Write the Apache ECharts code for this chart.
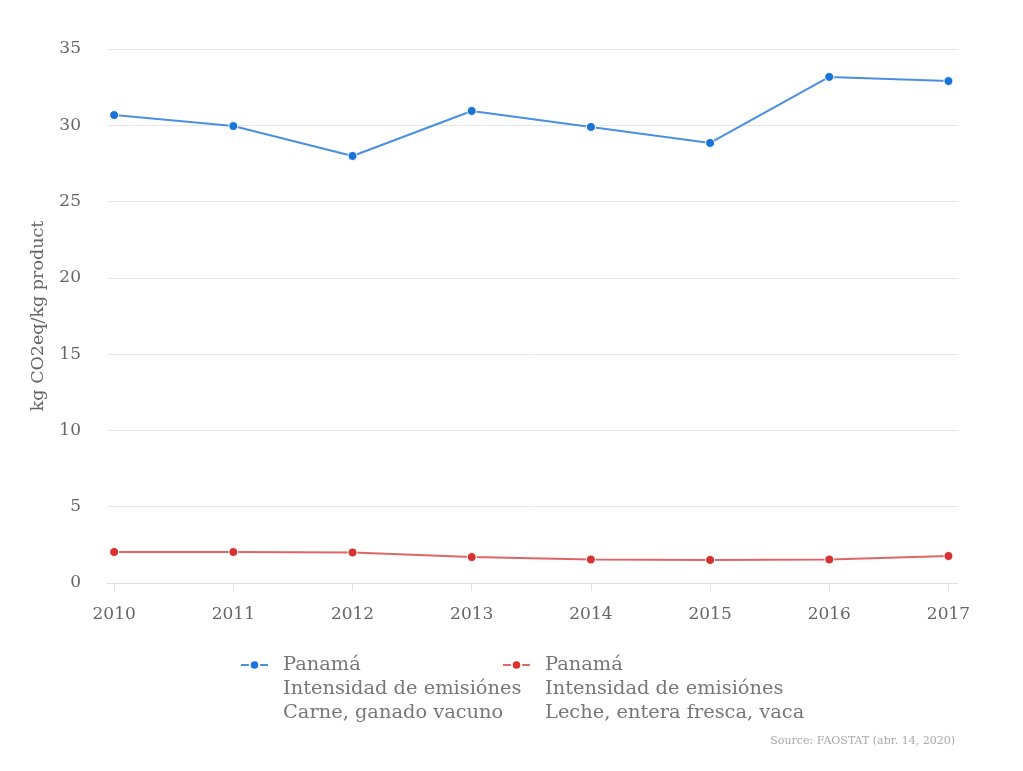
<!DOCTYPE html>
<html><head><meta charset="utf-8">
<script src="https://cdn.jsdelivr.net/npm/echarts@6/dist/echarts.min.js"></script>
<style>html,body{margin:0;padding:0;background:#fff}#c{width:1023px;height:771px}</style>
</head><body><div id="c"></div>
<script>
const years = [2010, 2011, 2012, 2013, 2014, 2015, 2016, 2017];
const carne = [30.67, 29.95, 27.99, 30.94, 29.89, 28.84, 33.17, 32.90];
const leche = [2.03, 2.03, 2.00, 1.70, 1.54, 1.51, 1.54, 1.77];
const yTicks = [0, 5, 10, 15, 20, 25, 30, 35];
const seriesNames = ['Panamá\nIntensidad de emisiónes\nCarne, ganado vacuno', 'Panamá\nIntensidad de emisiónes\nLeche, entera fresca, vaca'];
const font = 'DejaVu Serif';
const chart = echarts.init(document.getElementById('c'));
const mk = (vals) => years.map((y, i) => [y, vals[i]]);
const legendBase = (name, left) => ({
  top: 605, left: left, padding: 0, itemGap: 0, itemWidth: 27, itemHeight: 12,
  formatter: n => '\n\n' + n,
  textStyle: {color: '#777', fontFamily: font, fontSize: 19.4, lineHeight: 24, padding: [0, 0, 0, 10]},
  data: [name]
});
chart.setOption({
  animation: false,
  grid: {left: 107, right: 65, top: 49, bottom: 188},
  xAxis: {
    type: 'value', min: 2009.94, max: 2017.08,
    splitLine: {show: false},
    axisLine: {show: true, lineStyle: {color: '#e0e0e0'}},
    axisTick: {show: true, customValues: years, length: 8, lineStyle: {color: '#e0e0e0'}},
    axisLabel: {customValues: years, formatter: v => String(Math.round(v)), color: '#666', fontFamily: font, fontSize: 17, margin: 23},
  },
  yAxis: {
    type: 'value', min: 0, max: 35, interval: 5,
    name: 'kg CO2eq/kg product', nameLocation: 'middle', nameGap: 60,
    nameTextStyle: {color: '#666', fontFamily: font, fontSize: 17.5},
    axisLine: {show: false}, axisTick: {show: false},
    axisLabel: {customValues: yTicks, color: '#666', fontFamily: font, fontSize: 17, margin: 26},
    splitLine: {lineStyle: {color: '#e6e6e6'}}
  },
  legend: [legendBase(seriesNames[0], 240), legendBase(seriesNames[1], 502)],
  graphic: [{type: 'text', right: 68, top: 736, style: {text: 'Source: FAOSTAT (abr. 14, 2020)', fill: '#aaa', font: '11px "DejaVu Serif"'}}],
  series: [
    {name: seriesNames[0], type: 'line', data: mk(carne), symbol: 'circle', symbolSize: 9,
     lineStyle: {color: '#4a90e2', width: 2}, itemStyle: {color: '#1a73d9', borderColor: '#fff', borderWidth: 1}},
    {name: seriesNames[1], type: 'line', data: mk(leche), symbol: 'circle', symbolSize: 9,
     lineStyle: {color: '#e06666', width: 2}, itemStyle: {color: '#d63232', borderColor: '#fff', borderWidth: 1}}
  ]
});
</script></body></html>
